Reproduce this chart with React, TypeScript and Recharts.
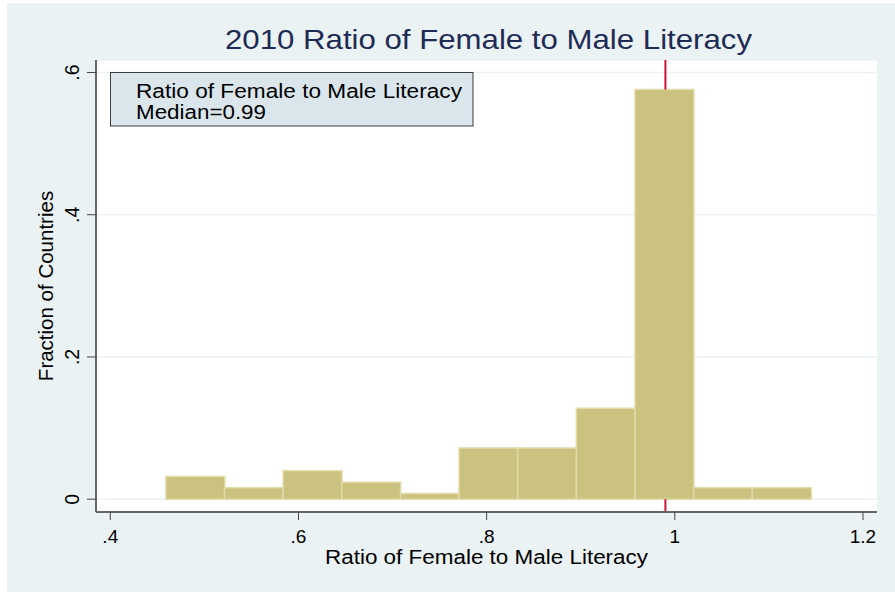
import React from 'react';
import { ComposedChart, Bar, XAxis, YAxis, CartesianGrid, ReferenceLine, Legend } from 'recharts';

if (typeof document !== 'undefined') {
  document.body.style.margin = '0';
}

// Histogram bins (bin midpoints) and fraction of countries per bin
const binMids = [0.4902, 0.5525, 0.6148, 0.6771, 0.7395, 0.8018, 0.8641, 0.9265, 0.9888, 1.0511, 1.1135];
const fractions = [0.032, 0.016, 0.04, 0.024, 0.008, 0.072, 0.072, 0.128, 0.576, 0.016, 0.016];
const binWidth = 0.0623;

const xTicks = [0.4, 0.6, 0.8, 1, 1.2];
const yTicks = [0, 0.2, 0.4, 0.6];
const xDomain = [0.3848, 1.2149];
const yDomain = [-0.018, 0.6176];

const medianValue = 0.99;
const titleText = '2010 Ratio of Female to Male Literacy';
const seriesName = 'Ratio of Female to Male Literacy';
const medianText = 'Median=0.99';
const xTitle = 'Ratio of Female to Male Literacy';
const yTitle = 'Fraction of Countries';

const data = binMids.map((mid, i) => ({ mid, fraction: fractions[i] }));

// The median line sits behind the bars: only the parts not covered by the bar are drawn
const medianBin = binMids.findIndex((m) => Math.abs(m - medianValue) <= binWidth / 2);
const medianBarTop = medianBin >= 0 ? fractions[medianBin] : 0;

const FONT = '"Liberation Sans", Arial, Helvetica, sans-serif';

const fmt = (v: number) => {
  const s = String(Math.round(v * 100) / 100);
  return s.startsWith('0.') ? s.slice(1) : s;
};

const YTick = (props: any) => {
  const { x, y, payload } = props;
  const tx = x - 5.5;
  return (
    <text
      x={tx}
      y={y}
      transform={`rotate(-90, ${tx}, ${y})`}
      textAnchor="middle"
      fontSize={19.5}
      fontFamily={FONT}
      fill="#000"
    >
      {fmt(payload.value)}
    </text>
  );
};

const XLabel = (props: any) => {
  const vb = props.viewBox || {};
  return (
    <text
      x={vb.x + vb.width / 2}
      y={vb.y + 52}
      textAnchor="middle"
      fontSize={20}
      fontFamily={FONT}
      fill="#000"
      textLength={323}
      lengthAdjust="spacingAndGlyphs"
    >
      {xTitle}
    </text>
  );
};

const YLabel = (props: any) => {
  const vb = props.viewBox || {};
  const cx = 53.3;
  const cy = vb.y + vb.height / 2;
  return (
    <text
      x={cx}
      y={cy}
      transform={`rotate(-90, ${cx}, ${cy})`}
      textAnchor="middle"
      fontSize={20.5}
      fontFamily={FONT}
      fill="#000"
    >
      {yTitle}
    </text>
  );
};

const LegendBox = () => (
  <svg width={365} height={56} style={{ display: 'block' }}>
    <rect x={0.5} y={0.5} width={362.5} height={53.5} fill="#DAE6EB" stroke="#3A3A3A" strokeWidth={1} />
    <text x={26} y={25.5} fontSize={20} fontFamily={FONT} fill="#000" textLength={326} lengthAdjust="spacingAndGlyphs">
      {seriesName}
    </text>
    <text x={26} y={46.7} fontSize={20} fontFamily={FONT} fill="#000" textLength={130} lengthAdjust="spacingAndGlyphs">
      {medianText}
    </text>
  </svg>
);

export default function App() {
  return (
    <div style={{ position: 'relative', width: 895, height: 592, background: '#FFFFFF', overflow: 'hidden' }}>
      <div style={{ position: 'absolute', left: 7, top: 3, width: 888, height: 589, background: '#EAF2F3' }} />
      <div style={{ position: 'absolute', left: 0, top: 0 }}>
        <ComposedChart
          width={895}
          height={592}
          data={data}
          margin={{ top: 60, right: 18, bottom: 30, left: 36 }}
          barCategoryGap={0}
          barGap={0}
        >
          <CartesianGrid vertical={false} fill="#FFFFFF" stroke="#EAF2F3" strokeWidth={1.5} />
          <XAxis
            type="number"
            dataKey="mid"
            domain={xDomain}
            ticks={xTicks}
            allowDataOverflow
            tickFormatter={fmt}
            height={50}
            tickSize={8}
            tickMargin={10}
            axisLine={{ stroke: '#666666', strokeWidth: 2 }}
            tickLine={{ stroke: '#444444', strokeWidth: 1 }}
            tick={{ fontSize: 19, fill: '#000', fontFamily: FONT }}
            label={{ content: XLabel }}
          />
          <YAxis
            type="number"
            domain={yDomain}
            ticks={yTicks}
            allowDataOverflow
            width={60}
            tickSize={9}
            axisLine={{ stroke: '#666666', strokeWidth: 2 }}
            tickLine={{ stroke: '#444444', strokeWidth: 1 }}
            tick={YTick}
            label={{ content: YLabel }}
          />
          <ReferenceLine
            segment={[
              { x: medianValue, y: medianBarTop },
              { x: medianValue, y: yDomain[1] },
            ]}
            stroke="#CC1236"
            strokeWidth={2}
          />
          <ReferenceLine
            segment={[
              { x: medianValue, y: yDomain[0] },
              { x: medianValue, y: 0 },
            ]}
            stroke="#CC1236"
            strokeWidth={2}
          />
          <Bar
            dataKey="fraction"
            name={seriesName}
            fill="#CAC27E"
            stroke="#E2DCAA"
            strokeWidth={1.5}
            isAnimationActive={false}
          />
          <Legend
            layout="horizontal"
            verticalAlign="middle"
            align="center"
            wrapperStyle={{ left: 110, top: 72, width: 365, height: 56 }}
            content={LegendBox}
          />
          <text
            x={488.5}
            y={48.7}
            textAnchor="middle"
            fontSize={27.5}
            fontFamily={FONT}
            fill="#1E2B55"
            textLength={527}
            lengthAdjust="spacingAndGlyphs"
          >
            {titleText}
          </text>
        </ComposedChart>
      </div>
    </div>
  );
}
